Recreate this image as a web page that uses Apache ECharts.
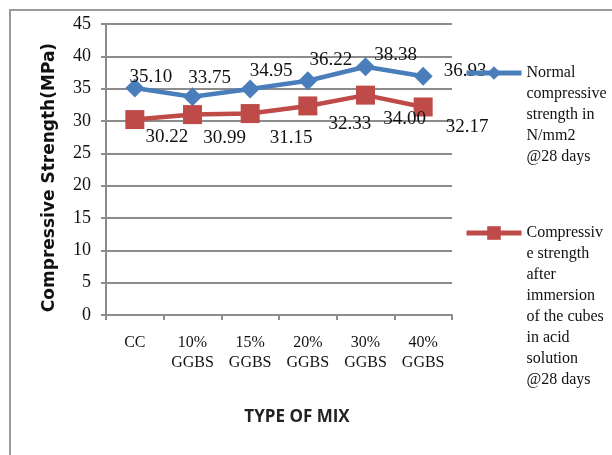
<!DOCTYPE html>
<html>
<head>
<meta charset="utf-8">
<script src="https://cdn.jsdelivr.net/npm/echarts@6/dist/echarts.min.js"></script>
<style>html,body{margin:0;padding:0;background:#fff}#c{width:612px;height:455px}</style>
</head>
<body>
<div id="c"></div>
<script>
// ---- data ----
var categories = ['CC', '10%\nGGBS', '15%\nGGBS', '20%\nGGBS', '30%\nGGBS', '40%\nGGBS'];
var normalStrength = [35.10, 33.75, 34.95, 36.22, 38.38, 36.93];
var acidStrength = [30.22, 30.99, 31.15, 32.33, 34.00, 32.17];
var seriesNames = ['Normal compressive strength in N/mm2 @28 days',
                   'Compressive strength after immersion of the cubes in acid solution @28 days'];
var legendLines = [
  ['Normal', 'compressive', 'strength in', 'N/mm2', '@28 days'],
  ['Compressiv', 'e strength', 'after', 'immersion', 'of the cubes', 'in acid', 'solution', '@28 days']
];
var yTicks = [0, 5, 10, 15, 20, 25, 30, 35, 40, 45];

// ---- label placement (styling) ----
var offBlue = [[16,-11],[17,-19],[21,-18],[23,-21],[30,-12],[42,-5]];
var offRed  = [[32,17],[32,23],[41,24],[42,18],[39,24],[44,20]];

function withOffsets(vals, offs) {
  return vals.map(function (v, i) { return { value: v, label: { offset: offs[i] } }; });
}

var serif = '"Liberation Serif", "Times New Roman", serif';
var chart = echarts.init(document.getElementById('c'), null, { renderer: 'canvas' });

// legend text: blank lines above so that the icon sits beside the first line
function legendFor(idx, iconCenterY) {
  var lh = 21;
  var lines = legendLines[idx];
  var n = lines.length;
  var pad = [];
  for (var i = 0; i < n - 1; i++) pad.push(' ');
  var txt = pad.concat(lines).join('\n');
  var total = (2 * n - 1) * lh;
  return {
    show: true,
    orient: 'vertical',
    left: 464,
    top: iconCenterY - total / 2,
    padding: 0,
    itemWidth: 55,
    itemHeight: 17,
    data: [seriesNames[idx]],
    lineStyle: { width: 5 },
    formatter: function () { return txt; },
    textStyle: { fontFamily: serif, fontSize: 16, lineHeight: lh, color: '#111' }
  };
}

chart.setOption({
  animation: false,
  backgroundColor: '#fff',
  graphic: [{
    type: 'polyline',
    shape: { points: [[10, 460], [10, 10], [620, 10]] },
    style: { stroke: '#9a9a9a', lineWidth: 2, fill: null },
    silent: true
  }],
  legend: [
    legendFor(0, 73),
    legendFor(1, 233)
  ],
  grid: { left: 106, right: 160, top: 24, bottom: 140, containLabel: false },
  xAxis: {
    type: 'category',
    data: categories,
    boundaryGap: true,
    axisLine: { show: true, lineStyle: { color: '#8c8c8c', width: 2 } },
    axisTick: { show: true, length: 5, lineStyle: { color: '#8c8c8c', width: 2 } },
    axisLabel: { fontFamily: serif, fontSize: 16, lineHeight: 20, color: '#111', margin: 18, interval: 0 },
    name: 'TYPE OF MIX',
    nameLocation: 'middle',
    nameGap: 94,
    nameTextStyle: { fontFamily: '"Open Sans", sans-serif', fontWeight: 'bold', fontSize: 17, color: '#222', padding: [0, 0, 0, 36] }
  },
  yAxis: {
    type: 'value',
    min: 0, max: 45, interval: 5,
    axisLine: { show: true, lineStyle: { color: '#8c8c8c', width: 2 } },
    axisTick: { show: true, length: 5, lineStyle: { color: '#8c8c8c', width: 2 } },
    splitLine: { show: true, lineStyle: { color: '#8c8c8c', width: 2 } },
    axisLabel: {
      fontFamily: serif, fontSize: 18, color: '#111', margin: 15,
      formatter: function (v) { return yTicks.indexOf(v) >= 0 ? String(v) : ''; }
    },
    name: 'Compressive Strength(MPa)',
    nameLocation: 'middle',
    nameGap: 48,
    nameRotate: 90,
    nameTextStyle: { fontFamily: '"DejaVu Sans", sans-serif', fontWeight: 'bold', fontSize: 17, color: '#111', padding: [0, 16, 0, 0] }
  },
  series: [
    {
      name: seriesNames[0],
      type: 'line',
      data: withOffsets(normalStrength, offBlue),
      symbol: 'diamond',
      symbolSize: 19,
      itemStyle: { color: '#4a7ebb' },
      lineStyle: { color: '#4a7ebb', width: 4.5 },
      label: { show: true, position: 'inside', fontFamily: serif, fontSize: 19, color: '#111',
               formatter: function (p) { return p.value.toFixed(2); } }
    },
    {
      name: seriesNames[1],
      type: 'line',
      data: withOffsets(acidStrength, offRed),
      symbol: 'rect',
      symbolSize: 19,
      itemStyle: { color: '#be4b48' },
      lineStyle: { color: '#be4b48', width: 4.5 },
      label: { show: true, position: 'inside', fontFamily: serif, fontSize: 19, color: '#111',
               formatter: function (p) { return p.value.toFixed(2); } }
    }
  ]
});
</script>
</body>
</html>
